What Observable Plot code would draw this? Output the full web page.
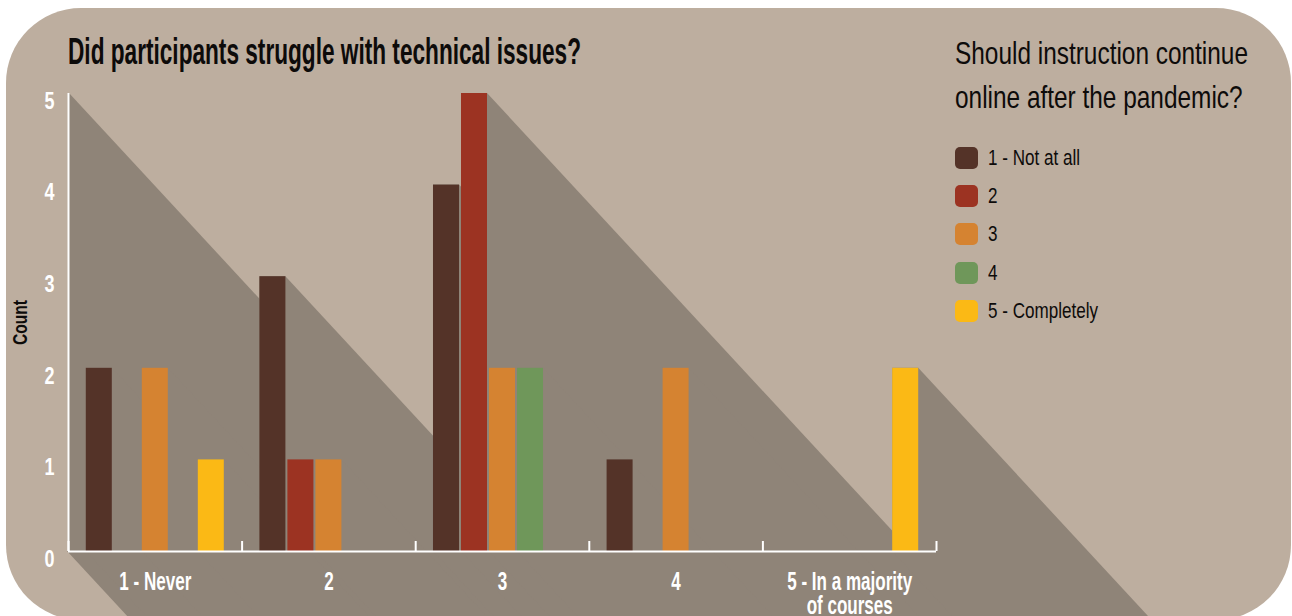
<!DOCTYPE html>
<html>
<head>
<meta charset="utf-8">
<script src="https://cdn.jsdelivr.net/npm/d3@7"></script>
<script src="https://cdn.jsdelivr.net/npm/@observablehq/plot@0.6"></script>
<style>
  html, body { margin: 0; padding: 0; background: #ffffff; }
  #page {
    position: relative; width: 1292px; height: 616px; overflow: hidden;
    background: #ffffff;
    font-family: "Liberation Sans Narrow", "Liberation Sans", sans-serif;
  }
  #card {
    position: absolute; left: 6px; top: 8px; width: 1285px; height: 612px;
    border-radius: 75px; background: #bdae9f; overflow: hidden;
  }
  #card svg { position: absolute; left: -6px; top: -8px; max-width: none; width: 1292px; height: 616px; }
  .fit { position: absolute; white-space: nowrap; transform-origin: 0 0; color: #0d0b0a; }
  #title { left: 68px; top: 34px; font-size: 36px; line-height: 36px; font-weight: bold; }
  .ltitle { left: 955px; font-size: 32px; line-height: 32px; }
  #legend { position: absolute; left: 955px; top: 139px; }
  .row { display: flex; align-items: center; height: 38.2px; }
  .sw { width: 23px; height: 22px; border-radius: 5px; flex: none; }
  .lab { margin-left: 10px; font-size: 22px; line-height: 22px; white-space: nowrap;
         color: #0d0b0a; transform-origin: 0 50%; display: inline-block; }
</style>
</head>
<body>
<div id="page">
  <div id="card"></div>
</div>
<script>
// Survey categories on the x axis (how often technical issues occurred)
const categories = ["1 - Never", "2", "3", "4", "5 - In a majority\nof courses"];

// Answer series: should instruction continue online after the pandemic?
const responses = ["1 - Not at all", "2", "3", "4", "5 - Completely"];
const colors = ["#543328", "#9c3322", "#d58331", "#6f975a", "#fbb915"];

// Counts per category (Never, 2, 3, 4, In a majority) for each answer
const notAtAll   = [2, 3, 4, 1, 0];
const answer2    = [0, 1, 5, 0, 0];
const answer3    = [2, 1, 2, 2, 0];
const answer4    = [0, 0, 2, 0, 0];
const completely = [1, 0, 0, 0, 2];

const yTicks = [0, 1, 2, 3, 4, 5];

const series = [notAtAll, answer2, answer3, answer4, completely];
const shadowColor = "#8f8478";

// Bars within a category: five slots spread across most of the category width
const slot = d3.scaleBand().domain(d3.range(responses.length))
  .range([-0.3975, 0.3975]).paddingInner(2 / 28);

const rows = [];
series.forEach((vals, j) => {
  vals.forEach((v, i) => {
    if (v > 0) {
      const x1 = i + 0.5 + slot(j);
      rows.push({category: categories[i], response: responses[j], count: v, x1, x2: x1 + slot.bandwidth()});
    }
  });
});

// Long diagonal shadows cast by the axes and every bar
function shadows(index, scales) {
  const {x, y} = scales;
  const far = 2000, slope = 1.08;
  const g = d3.create("svg:g").attr("fill", shadowColor);
  const poly = pts => g.append("path").attr("d", "M" + pts.map(p => p.join(",")).join("L") + "Z");
  const x0 = x(0), xEnd = x(5), y0 = y(0), yTop = y(5);
  poly([[x0 + 1, yTop], [x0 + 1 + far, yTop + far * slope], [x0 + far, y0 + far * slope], [x0, y0]]);
  poly([[x0 - 1, y0], [xEnd, y0], [xEnd + far, y0 + far * slope], [x0 - 1 + far, y0 + far * slope]]);
  for (const r of rows) {
    const a = x(r.x1), b = x(r.x2), t = y(r.count);
    poly([[a, t], [b, t], [b + far, t + far * slope], [a + far, y0 + far * slope], [a, y0]]);
  }
  return g.node();
}

const chart = Plot.plot({
  width: 1292,
  height: 616,
  marginLeft: 68,
  marginRight: 356,
  marginTop: 93,
  marginBottom: 65,
  style: {background: "transparent", fontFamily: "'Liberation Sans Narrow', 'Liberation Sans', sans-serif", overflow: "visible"},
  x: {domain: [0, categories.length], axis: null},
  y: {domain: [0, 5], axis: null},
  color: {domain: responses, range: colors},
  marks: [
    shadows,
    Plot.rectY(rows, {x1: "x1", x2: "x2", y: "count", fill: "response"}),
    Plot.ruleX([0], {stroke: "white", strokeWidth: 2}),
    Plot.ruleY([0], {stroke: "white", strokeWidth: 2}),
    Plot.tickX(d3.range(categories.length + 1), {x: d => d, stroke: "white", strokeWidth: 2, insetTop: 448}),
    Plot.text(yTicks, {x: 0, y: d => d, text: d => String(d), textAnchor: "end", dx: -14, dy: 8,
      fill: "white", fontWeight: "bold", fontSize: 23}),
    Plot.text(["Count"], {x: 0, y: 2.5, text: d => d, rotate: -90, dx: -48,
      fill: "#0d0b0a", fontWeight: "bold", fontSize: 20}),
    Plot.text(categories, {x: (d, i) => i + 0.5, y: 0, text: d => d, lineAnchor: "top", dy: 21,
      lineHeight: 0.96, fill: "white", fontWeight: "bold", fontSize: 25})
  ]
});

document.getElementById("card").appendChild(chart);

// Condense a group of SVG labels horizontally so that its widest line spans `width`
function lineWidths(t) {
  const spans = t.querySelectorAll("tspan");
  return spans.length ? [...spans].map(s => s.getComputedTextLength()) : [t.getComputedTextLength()];
}
function condense(group, width) {
  const texts = [...group.querySelectorAll("text")];
  const widest = d3.max(texts, t => d3.max(lineWidths(t)));
  const k = width / widest;
  for (const t of texts) {
    const tr = t.getAttribute("transform");
    if (tr) t.setAttribute("transform", tr + ` scale(${k},1)`);
    else {
      const x = +t.getAttribute("x") || 0, y = +t.getAttribute("y") || 0;
      t.removeAttribute("x"); t.removeAttribute("y");
      t.setAttribute("transform", `translate(${x},${y}) scale(${k},1)`);
    }
  }
}
const textGroups = chart.querySelectorAll('g[aria-label="text"]');
condense(textGroups[0], 10);
condense(textGroups[1], 45);
condense(textGroups[2], 125);

// Titles and legend
const page = document.getElementById("page");
function fitText(el, width) {
  const w = el.getBoundingClientRect().width;
  el.style.transform = `scaleX(${width / w})`;
  return width / w;
}
const title = document.createElement("div");
title.id = "title"; title.className = "fit";
title.textContent = "Did participants struggle with technical issues?";
page.appendChild(title);
fitText(title, 513);

const legendTitle = ["Should instruction continue", "online after the pandemic?"];
let k = 1;
legendTitle.forEach((line, i) => {
  const d = document.createElement("div");
  d.className = "fit ltitle";
  d.style.top = (37 + i * 44) + "px";
  d.textContent = line;
  page.appendChild(d);
  if (i === 0) k = fitText(d, 293);
  else d.style.transform = `scaleX(${k})`;
});

const legend = document.createElement("div");
legend.id = "legend";
responses.forEach((r, i) => {
  const row = document.createElement("div");
  row.className = "row";
  const sw = document.createElement("div");
  sw.className = "sw"; sw.style.background = colors[i];
  const lab = document.createElement("span");
  lab.className = "lab"; lab.textContent = r;
  row.appendChild(sw); row.appendChild(lab);
  legend.appendChild(row);
});
page.appendChild(legend);
const labs = legend.querySelectorAll(".lab");
const lk = 92 / labs[0].getBoundingClientRect().width;
labs.forEach(l => l.style.transform = `scaleX(${lk})`);
</script>
</body>
</html>
